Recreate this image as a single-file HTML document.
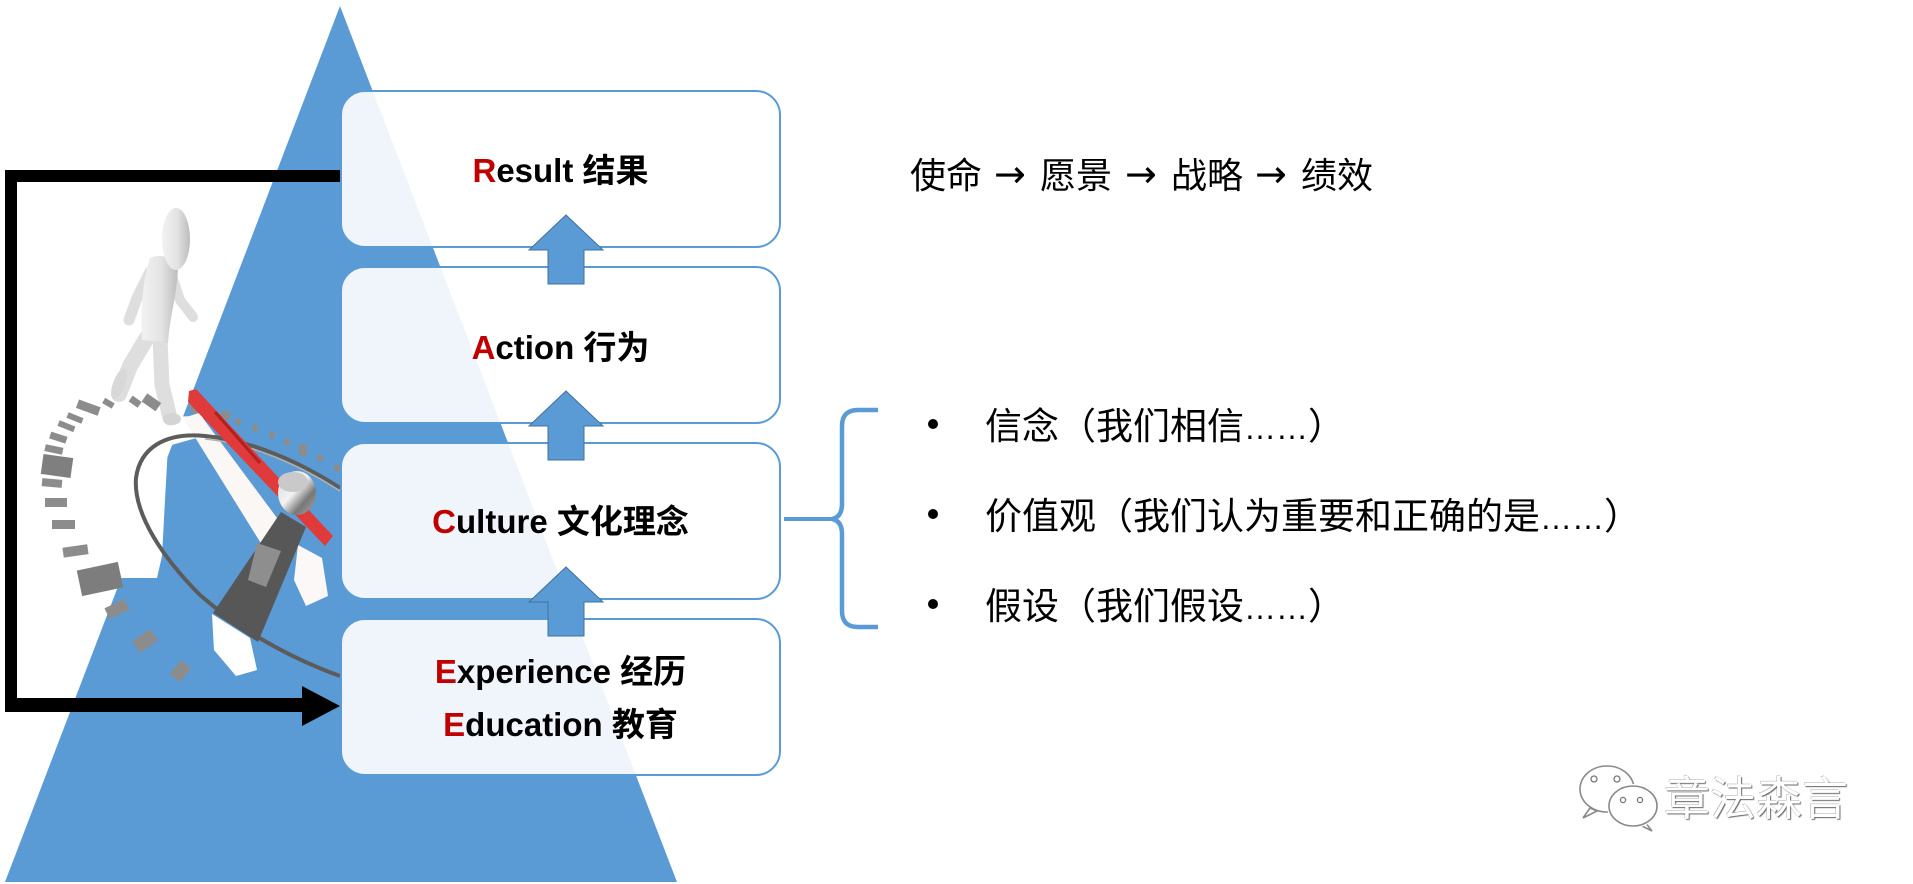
<!DOCTYPE html>
<html><head><meta charset="utf-8">
<style>
html,body{margin:0;padding:0;background:#fff;}
body{width:1913px;height:884px;position:relative;overflow:hidden;font-family:"Liberation Sans","Noto Sans CJK SC",sans-serif;}
svg{position:absolute;left:0;top:0;}
.t{position:absolute;white-space:nowrap;line-height:1;}
.bx{position:absolute;left:341px;width:439px;text-align:center;font-weight:bold;font-size:33px;line-height:33px;color:#000;white-space:nowrap;}
.r{color:#c00000;}
.top{font-size:36px;line-height:36px;top:158px;color:#000;}
.arr{font-family:"DejaVu Sans",sans-serif;font-size:38px;line-height:38px;top:155px;color:#000;}
.bl{font-size:37px;line-height:37px;left:985px;color:#000;}
.d{font-size:32px;}
.dot{position:absolute;width:10px;height:10px;border-radius:50%;background:#000;left:928px;}
.wm{position:absolute;left:1664px;top:776px;font-size:46px;line-height:46px;color:#fff;font-family:"Liberation Sans","Noto Sans CJK SC",sans-serif;text-shadow:1px 1px 1px #666,-0.5px -0.5px 0 #aaa;white-space:nowrap;}
</style></head>
<body>
<svg width="1913" height="884" viewBox="0 0 1913 884" xmlns="http://www.w3.org/2000/svg">
  <defs>
    <linearGradient id="fig" x1="0" y1="0" x2="1" y2="0">
      <stop offset="0" stop-color="#f2f2f2"/>
      <stop offset="0.55" stop-color="#e3e3e3"/>
      <stop offset="1" stop-color="#bcbcbc"/>
    </linearGradient>
    <linearGradient id="cyl" x1="0" y1="0" x2="1" y2="1">
      <stop offset="0" stop-color="#d8d8d8"/>
      <stop offset="0.45" stop-color="#f2f2f2"/>
      <stop offset="0.7" stop-color="#777"/>
      <stop offset="1" stop-color="#aaa"/>
    </linearGradient>
  </defs>

  <!-- triangle -->
  <polygon points="340,6 5,882 677,882" fill="#5b9bd5"/>

  <!-- image white regions over triangle -->
  <polygon points="100,418 203,416 200,437 168,446 165,500 162,556 157,578 100,578" fill="#fff"/>
  <polygon points="183,418 199,413 280,522 287,548 262,545" fill="#fbf7f5"/>
  <polygon points="298,545 322,558 328,596 306,606 294,580" fill="#fbf8f7"/>
  <polygon points="212,614 250,638 257,670 236,676 214,650" fill="#fff"/>

  <!-- running figure -->
  <g fill="none" stroke="#dedede" stroke-linecap="round" stroke-linejoin="round">
    <polyline points="150,272 137,298 129,320" stroke-width="11"/>
    <polyline points="172,276 180,300 193,317" stroke-width="10"/>
    <polyline points="148,336 130,366 119,394" stroke-width="16"/>
    <polyline points="160,338 162,385 170,418" stroke-width="15"/>
  </g>
  <path d="M150,258 C144,275 140,305 142,340 L168,343 C170,315 178,290 178,265 C172,256 158,254 150,258 Z" fill="url(#fig)"/>
  <ellipse cx="176" cy="239" rx="14" ry="31" fill="url(#fig)"/>
  <ellipse cx="172" cy="419" rx="9" ry="6" fill="#d4d4d4"/>
  <ellipse cx="119" cy="384" rx="6" ry="16" fill="#d8d8d8" transform="rotate(20 119 384)"/>

  <!-- ticks -->
  <g fill="#8c8c8c">
    <rect x="77" y="403" width="23" height="9" transform="rotate(20 88 407)"/>
    <rect x="67" y="415" width="16" height="6" transform="rotate(22 75 418)"/>
    <rect x="58" y="423" width="17" height="6" transform="rotate(22 66 426)"/>
    <rect x="50" y="434" width="17" height="7" transform="rotate(18 58 437)"/>
    <rect x="45" y="446" width="18" height="7" transform="rotate(12 54 449)"/>
    <rect x="42" y="456" width="30" height="20" fill="#7f7f7f" transform="rotate(8 57 466)"/>
    <rect x="42" y="479" width="20" height="8" transform="rotate(5 52 483)"/>
    <rect x="45" y="498" width="22" height="9"/>
    <rect x="52" y="520" width="23" height="9"/>
    <rect x="63" y="546" width="25" height="10" transform="rotate(-8 75 551)"/>
    <rect x="79" y="566" width="42" height="26" fill="#7d7d7d" transform="rotate(-12 100 579)"/>
    <rect x="106" y="603" width="22" height="12" transform="rotate(-25 117 609)"/>
    <rect x="134" y="634" width="22" height="14" transform="rotate(-35 145 641)"/>
    <rect x="171" y="665" width="18" height="13" transform="rotate(-50 180 671)"/>
    <rect x="103" y="400" width="11" height="6" transform="rotate(30 108 403)"/>
    <rect x="130" y="398" width="11" height="7" transform="rotate(35 135 401)"/>
    <rect x="143" y="397" width="17" height="10" transform="rotate(35 151 402)"/>
    <rect x="190" y="404" width="6" height="9" transform="rotate(-30 193 408)"/>
    <rect x="221" y="411" width="9" height="9"/>
    <ellipse cx="238" cy="422" rx="3" ry="4"/>
    <ellipse cx="255" cy="428" rx="3" ry="4"/>
    <ellipse cx="272" cy="435" rx="3" ry="4"/>
    <ellipse cx="287" cy="442" rx="3" ry="4"/>
    <rect x="299" y="444" width="8" height="12"/>
    <ellipse cx="320" cy="458" rx="3" ry="4"/>
    <ellipse cx="337" cy="468" rx="3" ry="4"/>
  </g>

  <!-- dial ring -->
  <path d="M340,488 C300,462 250,440 205,436 C165,432 140,448 136,478 C133,515 165,560 200,595 C240,630 290,658 340,676" fill="none" stroke="#5c5c5c" stroke-width="4"/>
  <path d="M340,491 C300,465 250,443 205,439" fill="none" stroke="#b0b0b0" stroke-width="1.5"/>

  <!-- red needle -->
  <polygon points="189,391 196,389 333,536 325,546 188,402" fill="#e03a3a"/>
  <line x1="215" y1="412" x2="260" y2="463" stroke="#b32020" stroke-width="3"/>

  <!-- holder -->
  <polygon points="281,512 306,527 258,642 213,613" fill="#575757"/>
  <polygon points="257,543 281,551 266,587 248,580" fill="#8e8e8e"/>
  <!-- cylinder -->
  <ellipse cx="297" cy="493" rx="19" ry="22" fill="url(#cyl)"/>
  <ellipse cx="293" cy="482" rx="15" ry="10" fill="#c9c9c9"/>

  <!-- black connector -->
  <rect x="5" y="170" width="335" height="12" fill="#000"/>
  <rect x="5" y="170" width="12" height="542" fill="#000"/>
  <rect x="5" y="698" width="298" height="14" fill="#000"/>
  <polygon points="302,686 340,706 302,726" fill="#000"/>

  <!-- boxes -->
  <g fill="rgba(255,255,255,0.9)" stroke="#5b9bd5" stroke-width="2">
    <rect x="341" y="91" width="439" height="156" rx="24"/>
    <rect x="341" y="267" width="439" height="156" rx="24"/>
    <rect x="341" y="443" width="439" height="156" rx="24"/>
    <rect x="341" y="619" width="439" height="156" rx="24"/>
  </g>

  <!-- up arrows -->
  <g fill="#5b9bd5" stroke="#41719c" stroke-width="1">
    <polygon points="566,215 603,250 584,250 584,284 548,284 548,250 529,250"/>
    <polygon points="566,391 603,426 584,426 584,460 548,460 548,426 529,426"/>
    <polygon points="566,567 603,602 584,602 584,636 548,636 548,602 529,602"/>
  </g>

  <!-- brace -->
  <path d="M878,410 L858,410 Q842,410 842,426 L842,504 Q842,517 832,519 Q842,521 842,534 L842,611 Q842,627 858,627 L878,627" fill="none" stroke="#5b9bd5" stroke-width="4.5"/>
  <line x1="784" y1="519" x2="834" y2="519" stroke="#5b9bd5" stroke-width="4"/>

  <!-- watermark icon -->
  <g fill="#fff" stroke="#8a8a8a" stroke-width="1.6">
    <path d="M1590,808 L1583,818 L1597,811 Z"/>
    <ellipse cx="1607" cy="789" rx="27" ry="23"/>
    <path d="M1645,822 L1652,831 L1640,825 Z"/>
    <ellipse cx="1633" cy="806" rx="24" ry="20" stroke="#fff" stroke-width="4"/>
    <ellipse cx="1633" cy="806" rx="24" ry="20"/>
  </g>
  <g fill="none" stroke="#777" stroke-width="1.3">
    <circle cx="1594" cy="779" r="3"/>
    <circle cx="1617" cy="779" r="3"/>
    <circle cx="1623" cy="800" r="2.6"/>
    <circle cx="1640" cy="800" r="2.6"/>
  </g>
</svg>

<!-- box labels -->
<div class="bx" style="top:154px;"><span class="r">R</span>esult 结果</div>
<div class="bx" style="top:331px;"><span class="r">A</span>ction 行为</div>
<div class="bx" style="top:505px;"><span class="r">C</span>ulture 文化理念</div>
<div class="bx" style="top:655px;"><span class="r">E</span>xperience 经历</div>
<div class="bx" style="top:708px;"><span class="r">E</span>ducation 教育</div>

<!-- top row -->
<div class="t top" style="left:910px;">使命</div>
<div class="t arr" style="left:994px;">→</div>
<div class="t top" style="left:1040px;">愿景</div>
<div class="t arr" style="left:1125px;">→</div>
<div class="t top" style="left:1171px;">战略</div>
<div class="t arr" style="left:1255px;">→</div>
<div class="t top" style="left:1301px;">绩效</div>

<!-- bullets -->
<div class="dot" style="top:419px;"></div>
<div class="dot" style="top:509px;"></div>
<div class="dot" style="top:599px;"></div>
<div class="t bl" style="top:408px;">信念（我们相信<span class="d">……</span>）</div>
<div class="t bl" style="top:498px;">价值观（我们认为重要和正确的是<span class="d">……</span>）</div>
<div class="t bl" style="top:588px;">假设（我们假设<span class="d">……</span>）</div>

<!-- watermark text -->
<div class="wm">章法森言</div>
</body></html>
